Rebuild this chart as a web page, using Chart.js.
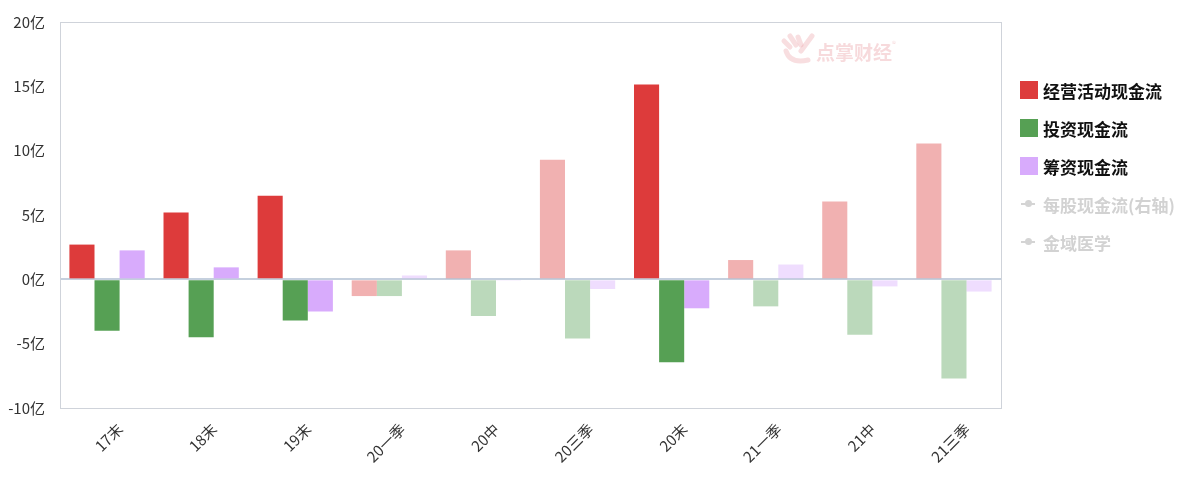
<!DOCTYPE html>
<html>
<head>
<meta charset="utf-8">
<script src="https://cdn.jsdelivr.net/npm/chart.js@4/dist/chart.umd.min.js"></script>
<style>
  html, body { margin: 0; padding: 0; background: #fff; }
  #wrap { position: relative; width: 1194px; height: 484px; overflow: hidden; font-family: "Noto Sans CJK SC", "Noto Sans", sans-serif; }
  #c { position: absolute; left: 0; top: 0; }
  .lg { position: absolute; left: 1020px; height: 20px; display: flex; align-items: center; font-weight: bold; font-size: 17px; white-space: nowrap; }
  .sw { width: 18px; height: 18px; margin-right: 5px; }
  .ln { width: 18px; height: 18px; margin-right: 5px; position: relative; }
  .ln:before { content: ""; position: absolute; left: 1px; right: 3px; top: 8px; height: 2px; background: #d4d4d4; }
  .ln:after { content: ""; position: absolute; left: 5px; top: 5px; width: 7px; height: 7px; border-radius: 50%; background: #d4d4d4; }
  #wm { position: absolute; left: 816px; top: 38px; font-size: 19px; font-weight: bold; color: rgba(232,150,155,0.35); }
  #wm sup { font-size: 8px; font-weight: normal; vertical-align: top; }
</style>
</head>
<body>
<div id="wrap">
  <canvas id="c" width="1194" height="484"></canvas>
  <div id="wm">点掌财经<sup>®</sup></div>
  <div id="legend"></div>
</div>
<script>
const categories = ['17末', '18末', '19末', '20一季', '20中', '20三季', '20末', '21一季', '21中', '21三季'];
const operatingCF = [2.7, 5.2, 6.5, -1.3, 2.25, 9.3, 15.15, 1.5, 6.05, 10.55];
const investingCF = [-4.0, -4.5, -3.2, -1.3, -2.85, -4.6, -6.45, -2.1, -4.3, -7.7];
const financingCF = [2.25, 0.93, -2.5, 0.3, -0.1, -0.75, -2.25, 1.15, -0.55, -0.95];
const seriesNames = ['经营活动现金流', '投资现金流', '筹资现金流', '每股现金流(右轴)', '金域医学'];
const yTicks = [-10, -5, 0, 5, 10, 15, 20];

const baseColors = [[221, 59, 59], [86, 160, 84], [216, 171, 252]];
function colorsFor(rgb) {
  return categories.map(c => c.endsWith('末')
    ? `rgb(${rgb[0]},${rgb[1]},${rgb[2]})`
    : `rgba(${rgb[0]},${rgb[1]},${rgb[2]},0.4)`);
}

const frame = {
  id: 'frame',
  beforeDatasetsDraw(chart) {
    const a = chart.chartArea, ctx = chart.ctx;
    ctx.save();
    ctx.strokeStyle = '#cfd3da';
    ctx.lineWidth = 1;
    ctx.strokeRect(Math.round(a.left) + 0.5, Math.round(a.top) + 0.5, Math.round(a.right - a.left), Math.round(a.bottom - a.top));
    // watermark logo (hand)
    ctx.strokeStyle = 'rgba(236,160,165,0.35)';
    ctx.lineCap = 'round';
    ctx.lineWidth = 5;
    const segs = [[784, 41, 790, 47], [790, 36, 796, 45], [798, 37, 801, 45], [812, 36, 801, 51]];
    segs.forEach(s => { ctx.beginPath(); ctx.moveTo(s[0], s[1]); ctx.lineTo(s[2], s[3]); ctx.stroke(); });
    ctx.beginPath();
    ctx.moveTo(786, 51);
    ctx.quadraticCurveTo(790, 64, 808, 60);
    ctx.stroke();
    ctx.restore();
  }
};

const seriesData = [operatingCF, investingCF, financingCF];
new Chart(document.getElementById('c'), {
  type: 'bar',
  data: {
    labels: categories,
    datasets: seriesData.map((d, i) => ({
      label: seriesNames[i],
      data: d,
      backgroundColor: colorsFor(baseColors[i]),
      borderWidth: 0,
      categoryPercentage: 0.8,
      barPercentage: 1.0
    }))
  },
  options: {
    responsive: false,
    animation: false,
    layout: { padding: { left: 0, top: 22, right: 193, bottom: 0 } },
    plugins: { legend: { display: false }, tooltip: { enabled: false } },
    scales: {
      x: {
        grid: { display: false },
        border: { display: false },
        ticks: {
          minRotation: 45, maxRotation: 45, padding: 4, labelOffset: 13,
          color: '#333', font: { family: '"Noto Sans CJK SC"', size: 15 }
        },
        afterFit(s) { s.height = 76; s.paddingLeft = 0; s.paddingRight = 0; }
      },
      y: {
        min: -10, max: 20,
        afterBuildTicks(s) { s.ticks = yTicks.map(v => ({ value: v })); },
        grid: {
          drawTicks: false,
          color: ctx => ctx.tick && ctx.tick.value === 0 ? '#c5d0de' : 'rgba(0,0,0,0)',
          lineWidth: 2
        },
        border: { display: false },
        ticks: {
          padding: 15,
          color: '#333',
          font: { family: '"Noto Sans CJK SC"', size: 15 },
          callback: v => v + '亿'
        },
        afterFit(s) { s.width = 60; s.paddingTop = 0; s.paddingBottom = 0; }
      }
    }
  },
  plugins: [frame]
});

// legend
const lg = document.getElementById('legend');
const tops = [80, 118, 156, 194, 232];
seriesNames.forEach((name, i) => {
  const d = document.createElement('div');
  d.className = 'lg';
  d.style.top = tops[i] + 'px';
  const m = document.createElement('div');
  if (i < 3) {
    m.className = 'sw';
    m.style.background = `rgb(${baseColors[i].join(',')})`;
    d.style.color = '#111';
  } else {
    m.className = 'ln';
    d.style.color = '#d2d2d2';
  }
  d.appendChild(m);
  d.appendChild(document.createTextNode(name));
  lg.appendChild(d);
});
</script>
</body>
</html>
